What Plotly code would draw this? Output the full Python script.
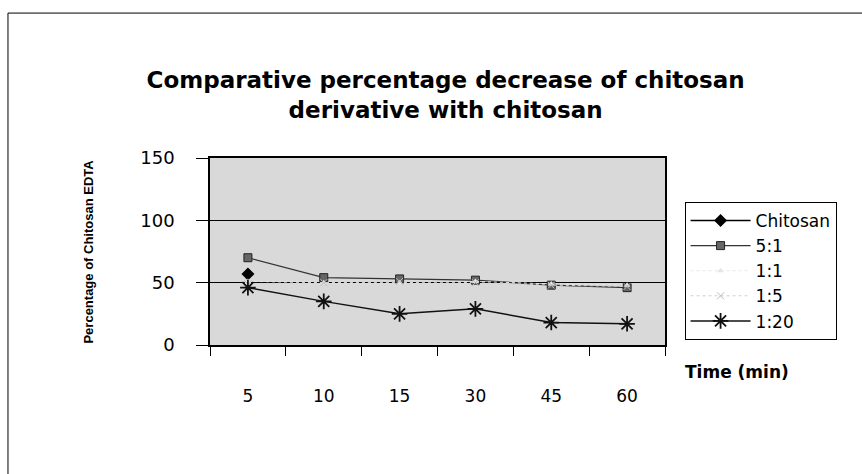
import plotly.graph_objects as go

times = ["5", "10", "15", "30", "45", "60"]
chitosan = [57, None, None, None, None, None]
r5_1 = [70, 54, 53, 52, 48, 46]
r1_1 = [51, 50, 50, 51, 49, 48]
r1_5 = [49, 50, 51, 50, 48, 47]
r1_20 = [46, 35, 25, 29, 18, 17]
y_ticks = [0, 50, 100, 150]

WIDE = "DejaVu Sans, Verdana, sans-serif"

fig = go.Figure()
fig.add_trace(go.Scatter(x=times, y=chitosan, name="Chitosan", mode="lines+markers",
                         line=dict(color="black", width=1.5),
                         marker=dict(symbol="diamond", size=10, color="black")))
fig.add_trace(go.Scatter(x=times, y=r5_1, name="5:1", mode="lines+markers",
                         line=dict(color="#333333", width=1.2),
                         marker=dict(symbol="square", size=8, color="#666666",
                                     line=dict(color="#222222", width=1))))
fig.add_trace(go.Scatter(x=times, y=r1_1, name="1:1", mode="lines+markers",
                         line=dict(color="#e6e6e6", width=1, dash="dot"),
                         marker=dict(symbol="triangle-up", size=6, color="#e6e6e6")))
fig.add_trace(go.Scatter(x=times, y=r1_5, name="1:5", mode="lines+markers",
                         line=dict(color="#cfcfcf", width=1, dash="dot"),
                         marker=dict(symbol="x-thin", size=7, color="#cfcfcf",
                                     line=dict(color="#bbbbbb", width=1))))
fig.add_trace(go.Scatter(x=times, y=r1_20, name="1:20", mode="lines+markers",
                         line=dict(color="#111111", width=1.5),
                         marker=dict(symbol="asterisk", size=13, color="#111111",
                                     line=dict(color="#111111", width=1.8))))

fig.update_layout(
    width=862, height=474,
    margin=dict(l=210, r=197, t=158, b=129),
    paper_bgcolor="white",
    plot_bgcolor="#d9d9d9",
    font=dict(family=WIDE, color="black"),
    title=dict(text="<b>Comparative percentage decrease of chitosan<br>derivative with chitosan</b>",
               x=0.517, xanchor="center", y=0.815, yanchor="top",
               font=dict(size=23, family=WIDE)),
    showlegend=True,
    legend=dict(x=1.043, xanchor="left", y=0.765, yanchor="top",
                bgcolor="white", bordercolor="black", borderwidth=1,
                font=dict(size=17, family=WIDE), tracegroupgap=0, itemwidth=60),
    xaxis=dict(type="category", categoryorder="array", categoryarray=times,
               range=[-0.5, 5.5],
               showline=True, linecolor="black", linewidth=1.5, mirror=True,
               ticks="outside", tickson="boundaries", ticklen=9, tickcolor="black",
               showgrid=False, tickfont=dict(size=17, family=WIDE), ticklabelstandoff=35),
    yaxis=dict(range=[0, 150], tickvals=y_ticks,
               showline=True, linecolor="black", linewidth=1.5, mirror=True,
               ticks="outside", ticklen=12, tickcolor="black",
               showgrid=True, gridcolor="black", gridwidth=1.2,
               zeroline=False, tickfont=dict(size=18, family=WIDE), ticklabelstandoff=18),
    annotations=[
        dict(text="<b>Time (min)</b>", xref="paper", yref="paper", x=1.04, y=-0.145,
             xanchor="left", yanchor="middle", showarrow=False,
             font=dict(size=17, family=WIDE)),
        dict(text="<b>Percentage of Chitosan EDTA</b>", xref="paper", yref="paper",
             x=-0.268, y=0.5, xanchor="center", yanchor="middle", textangle=-90,
             showarrow=False,
             font=dict(size=13, family="Liberation Sans Narrow, Arial Narrow, sans-serif")),
    ],
    shapes=[dict(type="rect", xref="paper", yref="paper",
                 x0=-0.444, x1=1.5, y0=-0.75, y1=1.775,
                 line=dict(color="black", width=1), fillcolor="rgba(0,0,0,0)", layer="below")],
)

fig.write_html("out.html")
